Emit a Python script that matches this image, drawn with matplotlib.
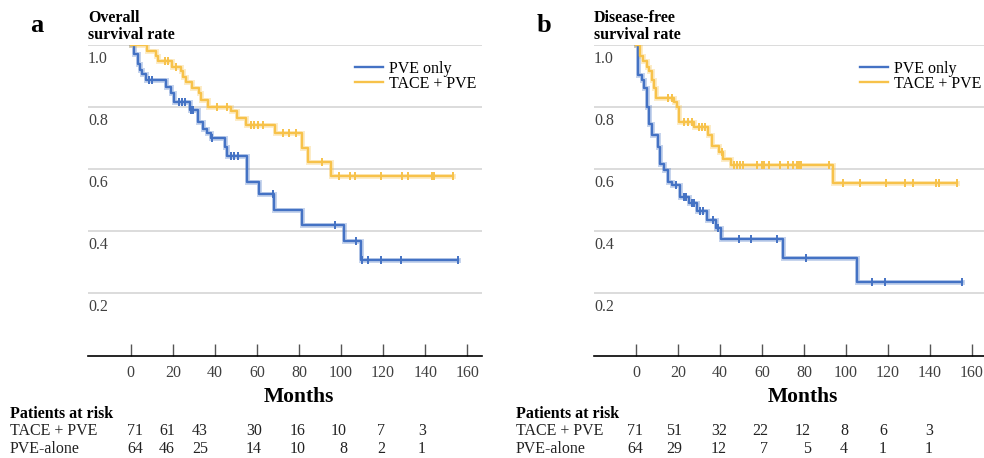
import numpy as np
import matplotlib
matplotlib.use("Agg")
import matplotlib.pyplot as plt
import matplotlib.transforms as mtransforms

plt.rcParams['font.family'] = ['Liberation Serif', 'DejaVu Serif']

# ---- dados ----
# a: sobrevida global
os_pve_t = [0, 1.6, 3.5, 4.2, 5.6, 7.5, 17.0, 19.0, 20.6, 28.3, 32.0, 34.5, 36.5, 38.0,
            44.8, 46.0, 55.5, 60.9, 68.0, 81.5, 101.3, 109.5]
os_pve_s = [1.0, 0.97, 0.94, 0.92, 0.905, 0.887, 0.864, 0.845, 0.815, 0.79, 0.753, 0.731, 0.717, 0.702,
            0.672, 0.642, 0.559, 0.519, 0.468, 0.421, 0.368, 0.306]
os_pve_end = 155.4
os_pve_cens = [8.5, 10.3, 23.0, 24.4, 25.7, 28.8, 29.8, 38.5, 47.9, 49.3, 51.0, 67.5,
               96.9, 107.3, 109.9, 112.9, 119.0, 128.5, 155.4]

os_tace_t = [0, 7.9, 11.9, 12.8, 19.8, 23.7, 25.0, 26.1, 29.3, 32.4, 33.2, 36.7, 47.5, 50.7,
             54.6, 68.5, 81.2, 84.4, 95.3]
os_tace_s = [1.0, 0.98, 0.963, 0.947, 0.93, 0.915, 0.898, 0.882, 0.86, 0.844, 0.823, 0.801, 0.786, 0.766,
             0.742, 0.715, 0.669, 0.624, 0.577]
os_tace_end = 153.4
os_tace_cens = [16.1, 17.9, 21.5, 40.8, 45.9, 57.0, 58.5, 60.5, 63.0, 72.5, 75.2, 78.5,
                91.1, 99.0, 104.4, 106.8, 119.0, 129.0, 132.0, 143.0, 144.0, 153.4]

# b: sobrevida livre de doenca
dfs_pve_t = [0, 1.0, 2.7, 4.0, 5.1, 6.2, 7.5, 10.3, 11.4, 13.5, 15.1, 17.0, 21.0, 25.4, 29.2,
             34.0, 38.1, 40.3, 69.8, 105.1]
dfs_pve_s = [1.0, 0.903, 0.887, 0.86, 0.801, 0.747, 0.71, 0.672, 0.618, 0.597, 0.56, 0.548, 0.51, 0.49, 0.465,
             0.437, 0.41, 0.376, 0.314, 0.237]
dfs_pve_end = 155.4
dfs_pve_cens = [19.0, 22.9, 23.8, 26.5, 27.5, 30.5, 32.0, 36.5, 39.2, 49.0, 54.6, 67.0,
                81.0, 112.2, 118.6, 155.4]

dfs_tace_t = [0, 2.0, 3.5, 5.1, 6.2, 7.5, 8.6, 9.5, 17.9, 19.4, 20.6, 27.5, 34.4, 36.0, 39.7,
              41.6, 45.1, 94.0]
dfs_tace_s = [1.0, 0.963, 0.947, 0.93, 0.915, 0.887, 0.863, 0.83, 0.818, 0.801, 0.753, 0.737, 0.71, 0.674, 0.656,
              0.634, 0.613, 0.555]
dfs_tace_end = 152.7
dfs_tace_cens = [15.4, 17.0, 22.9, 24.9, 26.5, 29.8, 31.6, 32.9, 40.8, 46.8, 48.2, 49.5, 50.8,
                 57.5, 60.2, 61.0, 63.3, 68.6, 72.2, 74.9, 76.5, 77.8, 78.6, 91.9,
                 98.4, 106.7, 119.0, 128.1, 131.7, 142.7, 144.1, 152.7]

# pacientes em risco
risk_rows = ['TACE + PVE', 'PVE-alone']
risk_os_tace = [71, 61, 43, 30, 16, 10, 7, 3]
risk_os_pve = [64, 46, 25, 14, 10, 8, 2, 1]
risk_dfs_tace = [71, 51, 32, 22, 12, 8, 6, 3]
risk_dfs_pve = [64, 29, 12, 7, 5, 4, 1, 1]

xticks = [0, 20, 40, 60, 80, 100, 120, 140, 160]
yticks = [0.2, 0.4, 0.6, 0.8]
ytick_labels = ['0.2', '0.4', '0.6', '0.8']

BLUE = '#4472C4'
GOLD = '#F7C24A'

W, H = 984, 458
fig = plt.figure(figsize=(W / 100, H / 100), dpi=100)


def px_box(x0, x1, ytop, ybot):
    return [x0 / W, 1 - ybot / H, (x1 - x0) / W, (ybot - ytop) / H]


def curva(ax, t, s, end, cens, cor):
    tt = list(t) + [end]
    ss = list(s) + [s[-1]]
    ax.step(tt, ss, where='post', color=cor, lw=3.6, alpha=0.3, zorder=3, solid_joinstyle='miter')
    ax.step(tt, ss, where='post', color=cor, lw=1.7, zorder=4)
    idx = np.searchsorted(t, cens, side='right') - 1
    ax.plot(cens, np.array(s)[idx], ls='none', marker='|', ms=6, mew=1.4, color=cor, zorder=5)


def painel(box, xlim, letra, letra_x, titulo, dados, riscos, col_right, lab_x, leg_x):
    ax = fig.add_axes(px_box(*box))
    ax.set_xlim(*xlim)
    ax.set_ylim(0, 1)
    for sp in ['top', 'right', 'left']:
        ax.spines[sp].set_visible(False)
    ax.spines['bottom'].set_color('black')
    ax.spines['bottom'].set_linewidth(1.2)
    for v in yticks + [1.0]:
        ax.axhline(v, color='#d9d9d9', lw=1.3, zorder=1)
    ax.set_yticks([])
    ax.set_xticks(xticks)
    ax.tick_params(axis='x', direction='in', length=9, width=1, color='#555555',
                   labelsize=11.5, labelcolor='#404040', pad=-2)
    for lbl in ax.get_xticklabels():
        lbl.set_transform(lbl.get_transform() + mtransforms.ScaledTranslation(0, -12 / 100, fig.dpi_scale_trans))
    # rotulos do eixo y abaixo das linhas de grade
    off = mtransforms.ScaledTranslation(0, -18 / 100, fig.dpi_scale_trans)
    for v, lab in zip(yticks + [1.0], ytick_labels + ['1.0']):
        ax.text(0, v, lab, transform=ax.get_yaxis_transform() + off, ha='left', va='baseline',
                fontsize=11.5, color='#404040')

    (pt, ps, pe, pc), (tt, ts, te, tc) = dados
    curva(ax, pt, ps, pe, pc, BLUE)
    curva(ax, tt, ts, te, tc, GOLD)

    ax.legend(handles=[plt.Line2D([], [], color=BLUE, lw=1.7), plt.Line2D([], [], color=GOLD, lw=1.7)],
              labels=['PVE only', 'TACE + PVE'], loc='upper left', bbox_to_anchor=(leg_x, 0.949),
              frameon=False, fontsize=11.5, handlelength=1.75, handletextpad=0.35,
              labelspacing=-0.05, borderpad=0, borderaxespad=0)

    x0 = box[0]
    fig.text(letra_x / W, 1 - 32 / H, letra, fontsize=19, fontweight='bold', va='baseline')
    fig.text(x0 / W, 1 - 22 / H, titulo[0], fontsize=11.5, fontweight='bold', va='baseline')
    fig.text(x0 / W, 1 - 39 / H, titulo[1], fontsize=11.5, fontweight='bold', va='baseline')

    fig.text(((box[0] + box[1]) / 2 + 14) / W, 1 - 402 / H, 'Months', fontsize=15.5,
             fontweight='bold', va='baseline', ha='center')

    fig.text(lab_x / W, 1 - 418 / H, 'Patients at risk', fontsize=11.5, fontweight='bold', va='baseline')
    for nome, vals, yb in zip(risk_rows, riscos, [435, 453]):
        fig.text(lab_x / W, 1 - yb / H, nome, fontsize=11.5, va='baseline', color='#222222')
        for xr, n in zip(col_right, vals):
            fig.text(xr / W, 1 - yb / H, str(n), fontsize=11.5, va='baseline', ha='right', color='#222222')
    return ax


painel((88, 482, 45, 355.5), (-20.3, 167), 'a', 30, ('Overall', 'survival rate'),
       ((os_pve_t, os_pve_s, os_pve_end, os_pve_cens), (os_tace_t, os_tace_s, os_tace_end, os_tace_cens)),
       (risk_os_tace, risk_os_pve), [143, 175, 208, 262, 306, 347, 385, 426], 10, 0.678)

painel((594, 984, 45, 355.5), (-20, 165.7), 'b', 537, ('Disease-free', 'survival rate'),
       ((dfs_pve_t, dfs_pve_s, dfs_pve_end, dfs_pve_cens), (dfs_tace_t, dfs_tace_s, dfs_tace_end, dfs_tace_cens)),
       (risk_dfs_tace, risk_dfs_pve), [643, 682, 727, 768, 811, 848, 887, 933], 516, 0.682)

fig.savefig('out.png', dpi=100)
